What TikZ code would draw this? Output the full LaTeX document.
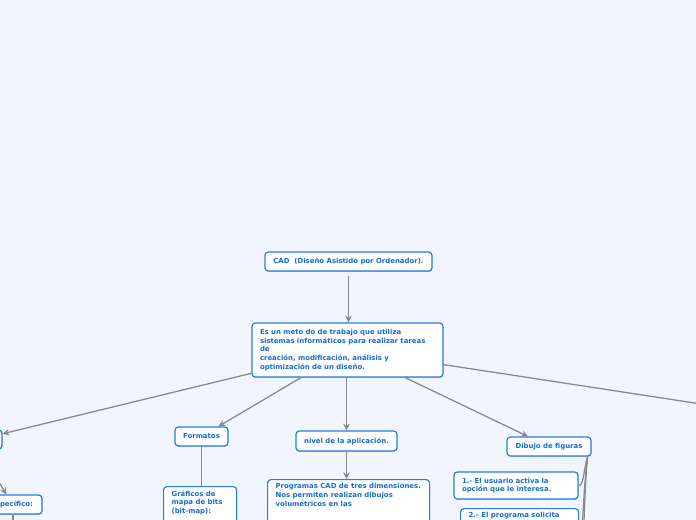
\documentclass[tikz,border=0pt]{standalone}
\usepackage{fontspec}
\setmainfont{DejaVu Sans}
\usetikzlibrary{arrows.meta,calc,shadows}
\definecolor{bgcol}{RGB}{241,245,254}
\definecolor{nodeborder}{RGB}{38,124,228}
\definecolor{nodetext}{RGB}{22,108,208}
\definecolor{conncol}{RGB}{136,136,142}
\tikzset{
  box/.style={draw=nodeborder, line width=0.9pt, fill=white, rounded corners=2.5pt,
    text=nodetext, font=\fontsize{5.2}{6.5}\selectfont\bfseries, inner sep=0pt,
    drop shadow={shadow xshift=0.3pt, shadow yshift=-0.7pt, opacity=0.18, fill=black}},
  cutbox/.style={box, anchor=north west, inner xsep=6pt, inner ysep=3pt},
  conn/.style={draw=conncol, line width=0.95pt},
  arr/.style={conn, -{Stealth[length=5pt,width=5pt]}},
}
\begin{document}
\begin{tikzpicture}[x=0.75pt,y=-0.75pt]
\useasboundingbox (0,0) rectangle (696,520);
\fill[bgcol] (0,0) rectangle (696,520);
\clip (0,0) rectangle (696,520);

% nodes
\node[box, minimum width=167*0.75pt, minimum height=19*0.75pt] (cad) at (348.5,261.5)
  {CAD\ \ (Diseño Asistido por Ordenador).};
\node[box, minimum width=191*0.75pt, minimum height=54*0.75pt, align=left, text width=175*0.75pt] (main) at (347.5,350)
  {Es un meto do de trabajo que utiliza\\sistemas informáticos para realizar tareas\\de\\creación, modificación, análisis y\\optimización de un diseño.};
\node[box, minimum width=46*0.75pt, minimum height=19*0.75pt] (left) at (-21,439.5) {};
\node[box, minimum width=53*0.75pt, minimum height=19*0.75pt] (formatos) at (201.5,436.5) {Formatos};
\node[box, minimum width=101*0.75pt, minimum height=20*0.75pt] (nivel) at (346.5,441) {nivel de la aplicación.};
\node[box, minimum width=84*0.75pt, minimum height=19*0.75pt] (dibujo) at (549,446.5) {Dibujo de figuras};
\node[box, minimum width=51*0.75pt, minimum height=19*0.75pt] (pec) at (16.5,504.5) {pecífico:};
\node[box, minimum width=124*0.75pt, minimum height=27*0.75pt, align=left, text width=108*0.75pt] (one) at (516,485.5)
  {1.- El usuario activa la\\opción que le interesa.};
\node[cutbox] (graficos) at (163,486)
  {\parbox[t][60pt][t]{42.75pt}{\raggedright Gráficos de\\mapa de bits\\(bit-map):}};
\node[cutbox] (programas) at (267,479)
  {\parbox[t][60pt][t]{109.5pt}{\raggedright Programas CAD de tres dimensiones.\\Nos permiten realizan dibujos\\volumétricos en las}};
\node[cutbox] (two) at (460,508)
  {\parbox[t][50pt][t]{76.5pt}{\raggedright 2.- El programa solicita}};

% free ends
\coordinate (offright) at (760,413);
\coordinate (pecdown) at (13,560);
\coordinate (dthree) at (578,620);

% connectors
\draw[arr, shorten <=3pt] (cad.south) -- (cad.south |- main.north);
\draw[arr] (main) -- (left);
\draw[arr] (main) -- (formatos);
\draw[arr] (main.south -| nivel.north) -- (nivel.north);
\draw[arr] (main) -- (dibujo);
\draw[conn] (main) -- (offright);
\draw[conn] (formatos.south) -- (formatos.south |- graficos.north);
\draw[arr] (nivel.south) -- (nivel.south |- programas.north);
\draw[arr] (left.south) -- ($(pec.north)+(-10,0)$);
\draw[conn] (pec.south -| pecdown) -- (pecdown);
\draw[conn] ($(dibujo.south east)+(-4,0)$) .. controls (583,472) and (584,485.5) .. (one.east);
\draw[conn] ($(dibujo.south east)+(-4,0)$) .. controls (583,490) and (583,540) .. (two.east);
\draw[conn] ($(dibujo.south east)+(-4,0)$) .. controls (583,500) and (583,610) .. (dthree);
\end{tikzpicture}
\end{document}
